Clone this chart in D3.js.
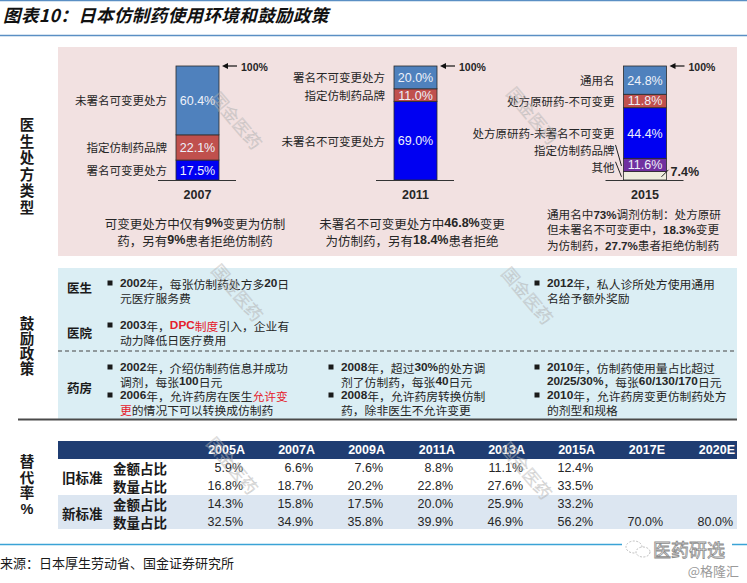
<!DOCTYPE html>
<html>
<head>
<meta charset="utf-8">
<script src="https://cdn.jsdelivr.net/npm/d3@7"></script>
<style>
  body { margin: 0; background: #ffffff; }
</style>
</head>
<body>
<div id="chart"></div>
<script>
(function() {
  var titleText = "图表10：日本仿制药使用环境和鼓励政策";
  var sourceText = "来源：日本厚生劳动省、国金证券研究所";
  var watermarkText = "国金医药";

  var sectionLabels = ["医生处方类型", "鼓励政策", "替代率%"];

  // prescription mix, stacked from the bottom up
  var barYears = ["2007", "2011", "2015"];
  var rx2007Labels = ["署名可变更处方", "指定仿制药品牌", "未署名可变更处方"];
  var rx2007Values = [17.5, 22.1, 60.4];
  var rx2011Labels = ["未署名不可变更处方", "指定仿制药品牌", "署名不可变更处方"];
  var rx2011Values = [69.0, 11.0, 20.0];
  var rx2015Labels = ["其他", "指定仿制药品牌", "处方原研药-未署名不可变更", "处方原研药-不可变更", "通用名"];
  var rx2015Values = [7.4, 11.6, 44.4, 11.8, 24.8];

  var caption2007 = ["可变更处方中仅有9%变更为仿制", "药，另有9%患者拒绝仿制药"];
  var caption2011 = ["未署名不可变更处方中46.8%变更", "为仿制药，另有18.4%患者拒绝"];
  var caption2015 = ["通用名中73%调剂仿制：处方原研", "但未署名不可变更中，18.3%变更", "为仿制药，27.7%患者拒绝仿制药"];

  // policies: [actor, period, lines]; [..] marks red text
  var policyActors = ["医生", "医院", "药房"];
  var policyBullets = [
    ["医生", 0, ["2002年，每张仿制药处方多20日", "元医疗服务费"]],
    ["医院", 0, ["2003年，[DPC制度]引入，企业有", "动力降低日医疗费用"]],
    ["药房", 0, ["2002年，介绍仿制药信息并成功", "调剂，每张100日元"]],
    ["药房", 0, ["2006年，允许药房在医生[允许变]", "[更]的情况下可以转换成仿制药"]],
    ["药房", 1, ["2008年，超过30%的处方调", "剂了仿制药，每张40日元"]],
    ["药房", 1, ["2008年，允许药房转换仿制", "药，除非医生不允许变更"]],
    ["医生", 2, ["2012年，私人诊所处方使用通用", "名给予额外奖励"]],
    ["药房", 2, ["2010年，仿制药使用量占比超过", "20/25/30%，每张60/130/170日元"]],
    ["药房", 2, ["2010年，允许药房变更仿制药处方", "的剂型和规格"]]
  ];

  // substitution rate table
  var tableYears = ["2005A", "2007A", "2009A", "2011A", "2013A", "2015A", "2017E", "2020E"];
  var standardLabels = ["旧标准", "新标准"];
  var measureLabels = ["金额占比", "数量占比"];
  var oldValueShare = [5.9, 6.6, 7.6, 8.8, 11.1, 12.4, null, null];
  var oldVolumeShare = [16.8, 18.7, 20.2, 22.8, 27.6, 33.5, null, null];
  var newValueShare = [14.3, 15.8, 17.5, 20.0, 25.9, 33.2, null, null];
  var newVolumeShare = [32.5, 34.9, 35.8, 39.9, 46.9, 56.2, 70.0, 80.0];

  var width = 747;
  var height = 583;
  var cjk = "'Noto Sans CJK SC', sans-serif";
  var latin = "'Liberation Sans', Arial, 'Noto Sans CJK SC', sans-serif";
  var textColor = "#262626";

  var svg = d3.select("#chart").append("svg")
    .attr("width", width)
    .attr("height", height)
    .style("display", "block");

  // bold latin/digits, red for [..]
  var richText = function(sel, str) {
    str.split(/(\[[^\]]*\])/).forEach(function(part) {
      if (!part) return;
      var red = part.charAt(0) === "[";
      var s = red ? part.slice(1, -1) : part;
      s.split(/([0-9A-Za-z][0-9A-Za-z.\/%]*)/).forEach(function(q, i) {
        if (!q) return;
        var t = sel.append("tspan").text(q);
        if (i % 2 === 1) t.attr("font-family", latin).attr("font-weight", "bold");
        if (red) t.attr("fill", "#e5202b");
      });
    });
  };

  var verticalLabel = function(str, cx, yTop, step) {
    svg.append("g").selectAll("text").data(str.split(""))
      .join("text")
      .attr("x", cx)
      .attr("y", function(d, i) { return yTop + i * step; })
      .attr("text-anchor", "middle")
      .attr("dominant-baseline", "central")
      .attr("font-family", latin)
      .attr("font-size", 14.5)
      .attr("font-weight", "bold")
      .attr("fill", "#1a1a1a")
      .text(function(d) { return d; });
  };

  // title
  svg.append("line").attr("x1", 0).attr("x2", width).attr("y1", 0.5).attr("y2", 0.5)
    .attr("stroke", "#5a8fc4").attr("stroke-width", 1.5);
  svg.append("text")
    .attr("x", 3).attr("y", 14)
    .attr("dominant-baseline", "central")
    .attr("font-family", cjk)
    .attr("font-size", 17.5)
    .attr("font-weight", "bold")
    .attr("font-style", "italic")
    .attr("letter-spacing", 0.4)
    .attr("fill", "#111111")
    .text(titleText);
  svg.append("line").attr("x1", 0).attr("x2", width).attr("y1", 35.5).attr("y2", 35.5)
    .attr("stroke", "#5a8fc4").attr("stroke-width", 1.5);

  // panels
  svg.append("rect").attr("x", 58).attr("y", 47).attr("width", 679).attr("height", 209).attr("fill", "#f2e1e1");
  svg.append("rect").attr("x", 58).attr("y", 268).attr("width", 679).attr("height", 151).attr("fill", "#dbeef4");
  svg.append("line").attr("x1", 58).attr("x2", 737).attr("y1", 351).attr("y2", 351)
    .attr("stroke", "#444").attr("stroke-width", 1).attr("stroke-dasharray", "4,3");
  svg.append("line").attr("x1", 18).attr("x2", 737).attr("y1", 419.5).attr("y2", 419.5)
    .attr("stroke", "#4a4a4a").attr("stroke-width", 2);

  verticalLabel(sectionLabels[0], 27, 125, 16.6);
  verticalLabel(sectionLabels[1], 27, 324, 15);
  verticalLabel(sectionLabels[2], 27, 462, 15.5);

  // ---- stacked bars
  var y = d3.scaleLinear().domain([0, 100]).range([180, 66]);
  var barX = d3.scaleOrdinal().domain(barYears).range([197.5, 415.5, 645]);
  var barW = 43;

  var drawBar = function(year, labels, values, colors, labelShift) {
    var cx = barX(year);
    var x0 = cx - barW / 2;
    var x1 = cx + barW / 2;
    var g = svg.append("g");
    var series = d3.stack().keys(d3.range(values.length))([values]);

    g.selectAll("rect.seg").data(series).join("rect")
      .attr("class", "seg")
      .attr("x", x0)
      .attr("width", barW)
      .attr("y", function(d) { return y(d[0][1]); })
      .attr("height", function(d) { return y(d[0][0]) - y(d[0][1]); })
      .attr("fill", function(d, i) { return colors[i]; })
      .attr("stroke", "#2b2b2b")
      .attr("stroke-width", 0.8);

    g.selectAll("text.val").data(series.filter(function(d) { return values[d.index] >= 10; }))
      .join("text")
      .attr("class", "val")
      .attr("x", cx)
      .attr("y", function(d) { return (y(d[0][0]) + y(d[0][1])) / 2 + 0.5; })
      .attr("text-anchor", "middle")
      .attr("dominant-baseline", "central")
      .attr("font-family", latin)
      .attr("font-size", 12.5)
      .attr("fill", "#eef1fa")
      .text(function(d) { return d3.format(".1f")(values[d.index]) + "%"; });

    g.selectAll("text.lab").data(series).join("text")
      .attr("class", "lab")
      .attr("x", x0 - 9)
      .attr("y", function(d, i) { return (y(d[0][0]) + y(d[0][1])) / 2 + (labelShift[i] || 0); })
      .attr("text-anchor", "end")
      .attr("dominant-baseline", "central")
      .attr("font-family", cjk)
      .attr("font-size", 11.5)
      .attr("fill", textColor)
      .text(function(d, i) { return labels[i]; });

    g.selectAll("line.leader").data(series.filter(function(d) { return labelShift[d.index]; }))
      .join("line")
      .attr("class", "leader")
      .attr("x1", x0 - 8)
      .attr("y1", function(d) { return (y(d[0][0]) + y(d[0][1])) / 2 + labelShift[d.index] - 5; })
      .attr("x2", x0 - 2)
      .attr("y2", function(d) { return (y(d[0][0]) + y(d[0][1])) / 2 + 1; })
      .attr("stroke", "#222").attr("stroke-width", 1);

    // axis base and 100% marker
    g.append("line").attr("x1", x0 - 18).attr("x2", x1 + 17).attr("y1", y(0) + 0.5).attr("y2", y(0) + 0.5)
      .attr("stroke", "#333").attr("stroke-width", 1);
    g.append("line").attr("x1", x1 + 8).attr("x2", x1 + 18).attr("y1", y(100)).attr("y2", y(100))
      .attr("stroke", "#111").attr("stroke-width", 1.2);
    g.append("path")
      .attr("d", "M" + (x1 + 3) + "," + y(100) + "L" + (x1 + 9) + "," + (y(100) - 3) + "L" + (x1 + 9) + "," + (y(100) + 3) + "Z")
      .attr("fill", "#111");
    g.append("text")
      .attr("x", x1 + 22).attr("y", y(100) + 0.5)
      .attr("dominant-baseline", "central")
      .attr("font-family", latin).attr("font-size", 10.5).attr("font-weight", "bold")
      .attr("fill", textColor)
      .text("100%");
    g.append("text")
      .attr("x", cx).attr("y", y(0) + 15)
      .attr("text-anchor", "middle").attr("dominant-baseline", "central")
      .attr("font-family", latin).attr("font-size", 12.5).attr("font-weight", "bold")
      .attr("fill", textColor)
      .text(year);
    return g;
  };

  var blueTop = "#4f81bd", redMid = "#c0504d", blueDeep = "#0000f2";
  drawBar("2007", rx2007Labels, rx2007Values, [blueDeep, redMid, blueTop], []);
  drawBar("2011", rx2011Labels, rx2011Values, [blueDeep, redMid, blueTop], []);
  var bar2015 = drawBar("2015", rx2015Labels, rx2015Values, ["#efeddf", "#7030a0", blueDeep, redMid, blueTop], [-9, -15]);

  // outside label for the smallest 2015 slice
  var other2015Y = (y(0) + y(rx2015Values[0])) / 2;
  var right2015 = barX("2015") + barW / 2;
  bar2015.append("line")
    .attr("x1", right2015 - 5).attr("y1", other2015Y + 1)
    .attr("x2", right2015 + 2).attr("y2", other2015Y - 6)
    .attr("stroke", "#222").attr("stroke-width", 1);
  bar2015.append("text")
    .attr("x", right2015 + 4).attr("y", other2015Y - 4)
    .attr("dominant-baseline", "central")
    .attr("font-family", latin).attr("font-size", 12.5).attr("font-weight", "bold")
    .attr("fill", textColor)
    .text(d3.format(".1f")(rx2015Values[0]) + "%");

  // captions under the bars
  var drawCaption = function(lines, x, y0, step, anchor, size) {
    svg.append("g").selectAll("text").data(lines).join("text")
      .attr("x", x)
      .attr("y", function(d, i) { return y0 + i * step; })
      .attr("text-anchor", anchor)
      .attr("dominant-baseline", "central")
      .attr("font-family", cjk)
      .attr("font-size", size)
      .attr("fill", textColor)
      .each(function(d) { richText(d3.select(this), d); });
  };
  drawCaption(caption2007, 195, 223, 17, "middle", 12.5);
  drawCaption(caption2011, 412, 223, 17, "middle", 12.5);
  drawCaption(caption2015, 547, 213.5, 15.8, "start", 11.6);

  // ---- policies
  var actorY = d3.scaleOrdinal().domain(policyActors).range([287, 332, 387]);
  var bulletStartY = d3.scaleOrdinal().domain(policyActors).range([283, 325, 367]);
  var periodX = d3.scaleOrdinal().domain([0, 1, 2]).range([110, 331, 537]);
  var lineH = 14;

  svg.append("g").selectAll("text").data(policyActors).join("text")
    .attr("x", 67)
    .attr("y", function(d) { return actorY(d); })
    .attr("dominant-baseline", "central")
    .attr("font-family", cjk)
    .attr("font-size", 12.5)
    .attr("font-weight", "bold")
    .attr("fill", "#1a1a1a")
    .text(function(d) { return d; });

  var used = {};
  policyBullets.forEach(function(b) {
    var key = b[0] + "-" + b[1];
    var offset = used[key] || 0;
    used[key] = offset + b[2].length;
    var bx = periodX(b[1]);
    var by = bulletStartY(b[0]) + offset * lineH;
    svg.append("rect")
      .attr("x", bx - 2.5).attr("y", by - 2.5).attr("width", 5).attr("height", 5)
      .attr("fill", "#1a1a1a");
    svg.append("g").selectAll("text").data(b[2]).join("text")
      .attr("x", bx + 10)
      .attr("y", function(d, i) { return by + i * lineH; })
      .attr("dominant-baseline", "central")
      .attr("font-family", cjk)
      .attr("font-size", 11.8)
      .attr("fill", textColor)
      .each(function(d) { richText(d3.select(this), d); });
  });

  // ---- table
  var col = d3.scaleBand().domain(tableYears).range([175, 735]);
  var rowKeys = ["oldValue", "oldVolume", "newValue", "newVolume"];
  var rowValues = [oldValueShare, oldVolumeShare, newValueShare, newVolumeShare];
  var row = d3.scaleBand().domain(rowKeys).range([459, 531]);

  svg.append("rect").attr("x", 58).attr("y", 441).attr("width", 679).attr("height", 18).attr("fill", "#1f3d72");
  svg.append("rect").attr("x", 58).attr("y", row("newValue")).attr("width", 679).attr("height", row.bandwidth() * 2 - 2)
    .attr("fill", "#dce6f1");

  svg.append("g").selectAll("text").data(tableYears).join("text")
    .attr("x", function(d) { return col(d) + col.bandwidth(); })
    .attr("y", 450)
    .attr("text-anchor", "end")
    .attr("dominant-baseline", "central")
    .attr("font-family", latin)
    .attr("font-size", 12.5)
    .attr("font-weight", "bold")
    .attr("fill", "#ffffff")
    .text(function(d) { return d; });

  svg.append("g").selectAll("text").data(standardLabels).join("text")
    .attr("x", 62)
    .attr("y", function(d, i) { return row(rowKeys[i * 2]) + row.bandwidth(); })
    .attr("dominant-baseline", "central")
    .attr("font-family", cjk)
    .attr("font-size", 13.5)
    .attr("font-weight", "bold")
    .attr("fill", "#1a1a1a")
    .text(function(d) { return d; });

  svg.append("g").selectAll("text").data(rowKeys).join("text")
    .attr("x", 113)
    .attr("y", function(d) { return row(d) + row.bandwidth() / 2; })
    .attr("dominant-baseline", "central")
    .attr("font-family", cjk)
    .attr("font-size", 13.5)
    .attr("font-weight", "bold")
    .attr("fill", "#1a1a1a")
    .text(function(d, i) { return measureLabels[i % 2]; });

  var cells = [];
  rowKeys.forEach(function(k, r) {
    tableYears.forEach(function(yr, c) {
      if (rowValues[r][c] != null) cells.push({ row: k, year: yr, value: rowValues[r][c] });
    });
  });
  svg.append("g").selectAll("text").data(cells).join("text")
    .attr("x", function(d) { return col(d.year) + col.bandwidth() - 2; })
    .attr("y", function(d) { return row(d.row) + row.bandwidth() / 2; })
    .attr("text-anchor", "end")
    .attr("dominant-baseline", "central")
    .attr("font-family", latin)
    .attr("font-size", 12.5)
    .attr("fill", textColor)
    .text(function(d) { return d3.format(".1f")(d.value) + "%"; });

  // ---- footer
  svg.append("line").attr("x1", 0).attr("x2", width).attr("y1", 544.5).attr("y2", 544.5)
    .attr("stroke", "#3aa3d6").attr("stroke-width", 1.5);
  svg.append("text")
    .attr("x", 0).attr("y", 562)
    .attr("dominant-baseline", "central")
    .attr("font-family", cjk)
    .attr("font-size", 13)
    .attr("fill", "#1a1a1a")
    .text(sourceText);

  var logo = svg.append("g");
  logo.append("rect").attr("x", 622).attr("y", 538).attr("width", 110).attr("height", 22).attr("fill", "#ffffff");
  logo.append("ellipse").attr("cx", 634).attr("cy", 547).attr("rx", 8).attr("ry", 6)
    .attr("fill", "none").attr("stroke", "#bdbdbd").attr("stroke-dasharray", "2,1.5");
  logo.append("ellipse").attr("cx", 643).attr("cy", 552).attr("rx", 7).attr("ry", 5)
    .attr("fill", "#ffffff").attr("stroke", "#bdbdbd").attr("stroke-dasharray", "2,1.5");
  logo.append("text")
    .attr("x", 653).attr("y", 549)
    .attr("dominant-baseline", "central")
    .attr("font-family", cjk).attr("font-size", 18)
    .attr("fill", "#ffffff").attr("stroke", "#8c8c8c").attr("stroke-width", 0.8)
    .text("医药研选");
  logo.append("text")
    .attr("x", 739).attr("y", 570)
    .attr("text-anchor", "end")
    .attr("dominant-baseline", "central")
    .attr("font-family", cjk).attr("font-size", 13)
    .attr("fill", "#9a9a9a")
    .text("@格隆汇");

  // watermarks
  var marks = [[237, 120], [533, 115], [238, 292], [528, 295], [233, 465], [527, 470]];
  svg.append("g").selectAll("text").data(marks).join("text")
    .attr("transform", function(d) { return "translate(" + d[0] + "," + d[1] + ") rotate(50)"; })
    .attr("text-anchor", "middle")
    .attr("dominant-baseline", "central")
    .attr("font-family", cjk)
    .attr("font-size", 17)
    .attr("font-weight", 300)
    .attr("fill", "none")
    .attr("stroke", "#b4b4b4")
    .attr("stroke-width", 0.5)
    .attr("opacity", 0.7)
    .text(watermarkText);
})();
</script>
</body>
</html>
